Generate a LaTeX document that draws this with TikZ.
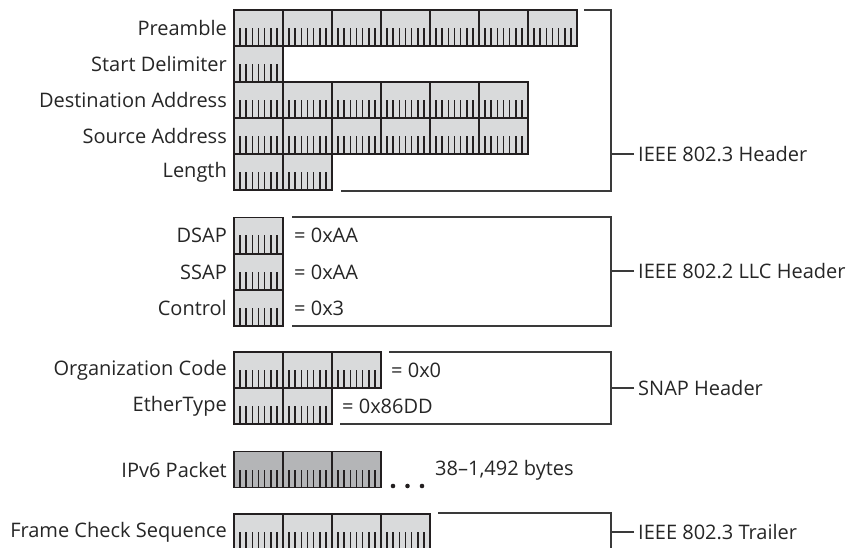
\documentclass[tikz,border=0pt]{standalone}
\usepackage{fontspec}
\setmainfont{Open Sans}
\usetikzlibrary{positioning,calc}
\definecolor{bytefill}{HTML}{D9DADB}
\definecolor{datafill}{HTML}{B4B5B7}
\definecolor{byteline}{HTML}{231F20}
\definecolor{brackline}{HTML}{3A3A3A}

\begin{document}
\begin{tikzpicture}[
  x=1pt,y=1pt,
  byte/.style={draw=byteline,line width=1.7pt,minimum width=49pt,minimum height=36pt,inner sep=0pt,outer sep=0pt,
    path picture={\foreach \t in {1,...,7}{\draw[byteline,line width=1.7pt]
      ($(path picture bounding box.south west)!\t/8!(path picture bounding box.south east)$) -- ++(0,18);}}},
  lbl/.style={font=\fontsize{20}{24}\selectfont,inner sep=0pt,text=black!85},
  brk/.style={draw=brackline,line width=1.1pt}
]
\useasboundingbox[fill=white] (0,0) rectangle (846,-548);
\clip (0,0) rectangle (846,-548);
% byte rows with their names on the left
\foreach \name/\row/\n/\fc/\txt in {pre/-28/7/bytefill/Preamble,sd/-64/1/bytefill/Start Delimiter,
    da/-100/6/bytefill/Destination Address,sa/-136/6/bytefill/Source Address,len/-172/2/bytefill/Length,
    dsap/-235.5/1/bytefill/DSAP,ssap/-272/1/bytefill/SSAP,ctl/-308/1/bytefill/Control,
    org/-370/3/bytefill/Organization Code,eth/-406/2/bytefill/EtherType,
    ipv6/-469.5/3/datafill/IPv6 Packet,fcs/-532/4/bytefill/Frame Check Sequence}{
  \foreach \k in {1,...,\n} \node[byte,fill=\fc] (\name\k) at (209.5+49*\k,\row) {};
  \node[lbl,left=7pt of \name1] (l\name) {\txt};
}
% field values
\node[lbl,right=11pt of dsap1] (vdsap) {= 0xAA};
\node[lbl,right=11pt of ssap1] (vssap) {= 0xAA};
\node[lbl,right=11pt of ctl1] (vctl) {= 0x3};
\node[lbl,right=10pt of org3] (vorg) {= 0x0};
\node[lbl,right=10pt of eth2] (veth) {= 0x86DD};
\foreach \k in {0,1,2} \fill[byteline] (393+14.5*\k,-486) circle (2.3);
\node[lbl,anchor=west] (size) at (435,-470) {38--1,492 bytes};
% brackets
\coordinate (rail) at (611,0);
\node[lbl,anchor=west] (h8023) at (638,-154) {IEEE 802.3 Header};
\node[lbl,anchor=west] (h8022) at (638,-271) {IEEE 802.2 LLC Header};
\node[lbl,anchor=west] (hsnap) at (638,-388) {SNAP Header};
\node[lbl,anchor=west] (t8023) at (638,-532) {IEEE 802.3 Trailer};
\coordinate (a1) at (584,-10);  \coordinate (b1) at (341,-191);
\coordinate (a2) at (292,-217); \coordinate (b2) at (292,-326);
\coordinate (a3) at (389,-352); \coordinate (b3) at (340,-424);
\coordinate (a4) at (438,-513); \coordinate (b4) at (611,-560);
\draw[brk] (a1) -- (a1 -| rail) -- (b1 -| rail) -- (b1);
\draw[brk] (a2) -- (a2 -| rail) -- (b2 -| rail) -- (b2);
\draw[brk] (a3) -- (a3 -| rail) -- (b3 -| rail) -- (b3);
\draw[brk] (a4) -- (a4 -| rail) -- (b4);
\foreach \h in {h8023,h8022,hsnap,t8023}
  \draw[brk] ($(\h.west)+(-4,0)$) -- (\h.west -| rail);
\end{tikzpicture}
\end{document}
